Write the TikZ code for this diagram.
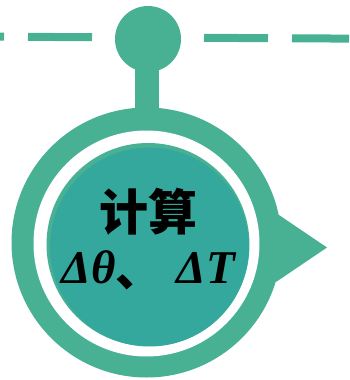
\documentclass[tikz,border=0pt]{standalone}
\usepackage{fontspec}
\setmainfont{Liberation Serif}
\newfontfamily\cjk{Noto Sans CJK SC}
\definecolor{ringgreen}{RGB}{72,177,148}
\definecolor{innerteal}{RGB}{52,168,157}
\begin{document}
\begin{tikzpicture}[x=1pt,y=-1pt,
  greenfill/.style={fill=ringgreen,draw=none},
  dashline/.style={draw=ringgreen,line width=8pt,dash pattern=on 64pt off 24pt,dash phase=60pt},
  label/.style={inner sep=0pt,anchor=base,text=black}]
\useasboundingbox (0,0) rectangle (349,380);
% dashed line
\draw[dashline] (0,36.7) -- (349,38.6);
% stem and knob
\fill[ringgreen] (135,60) rectangle (159,118);
\fill[ringgreen] (148,39) circle (33);
% outer ring
\fill[ringgreen] (146.5,242.5) circle (135);
% pointer
\fill[ringgreen] (276,213) -- (327,247.5) -- (276,282) -- cycle;
% white ring
\fill[white] (146.5,243.5) circle (113);
% inner disk with light crescent
\fill[ringgreen] (148,244.5) circle (101.5);
\fill[innerteal] (149.5,247) circle (99.5);
% text
\node[label,font=\cjk\bfseries\fontsize{49}{49}\selectfont] (t1) at (148,230) {计算};
\node[label,font=\bfseries\fontsize{47}{47}\selectfont] (t2) at (148.5,283) {\itshape Δθ{\upshape\cjk\raisebox{-3pt}{、}}\hspace{14pt}ΔT};
\end{tikzpicture}
\end{document}
